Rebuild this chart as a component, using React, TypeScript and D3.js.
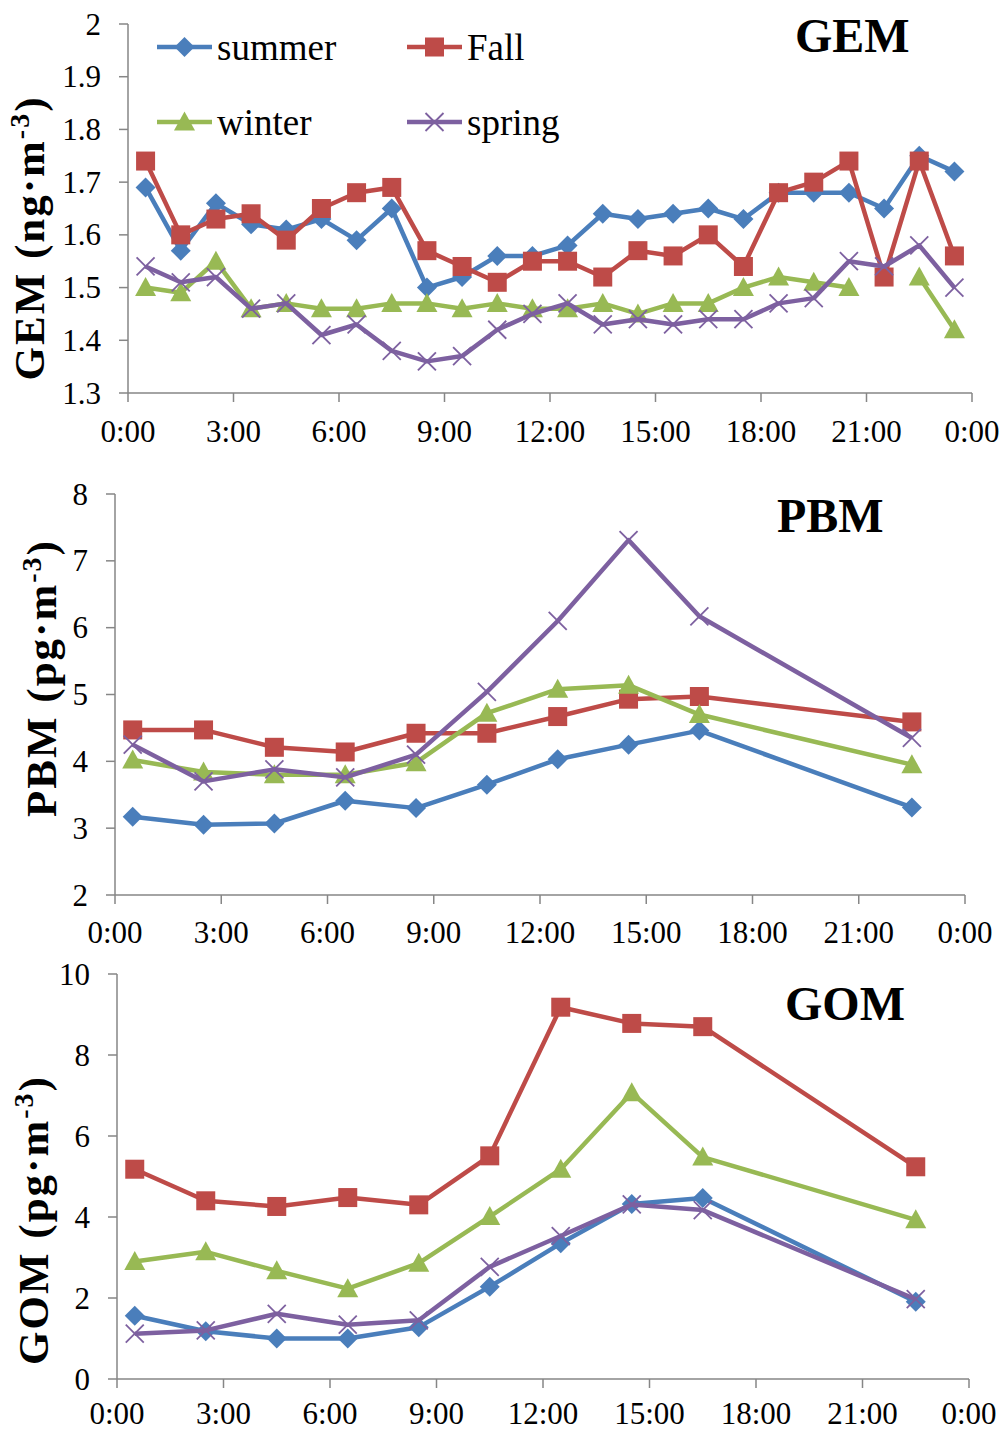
import React from "react";
import * as d3 from "d3";

const seriesNames = ["summer", "Fall", "winter", "spring"];
const seriesColors = ["#4A7EBB", "#BE4B48", "#98B954", "#7D60A0"];
const markerTypes = ["diamond", "square", "triangle", "x"];

const xTickValues = [0, 3, 6, 9, 12, 15, 18, 21, 24];
const xTickLabels = ["0:00", "3:00", "6:00", "9:00", "12:00", "15:00", "18:00", "21:00", "0:00"];

// GEM (hourly)
const gemHours = [0.5, 1.5, 2.5, 3.5, 4.5, 5.5, 6.5, 7.5, 8.5, 9.5, 10.5, 11.5, 12.5, 13.5, 14.5, 15.5, 16.5, 17.5, 18.5, 19.5, 20.5, 21.5, 22.5, 23.5];
const gemSummer = [1.69, 1.57, 1.66, 1.62, 1.61, 1.63, 1.59, 1.65, 1.50, 1.52, 1.56, 1.56, 1.58, 1.64, 1.63, 1.64, 1.65, 1.63, 1.68, 1.68, 1.68, 1.65, 1.75, 1.72];
const gemFall = [1.74, 1.60, 1.63, 1.64, 1.59, 1.65, 1.68, 1.69, 1.57, 1.54, 1.51, 1.55, 1.55, 1.52, 1.57, 1.56, 1.60, 1.54, 1.68, 1.70, 1.74, 1.52, 1.74, 1.56];
const gemWinter = [1.50, 1.49, 1.55, 1.46, 1.47, 1.46, 1.46, 1.47, 1.47, 1.46, 1.47, 1.46, 1.46, 1.47, 1.45, 1.47, 1.47, 1.50, 1.52, 1.51, 1.50, null, 1.52, 1.42];
const gemSpring = [1.54, 1.51, 1.52, 1.46, 1.47, 1.41, 1.43, 1.38, 1.36, 1.37, 1.42, 1.45, 1.47, 1.43, 1.44, 1.43, 1.44, 1.44, 1.47, 1.48, 1.55, 1.54, 1.58, 1.50];
const gemTicks = [1.3, 1.4, 1.5, 1.6, 1.7, 1.8, 1.9, 2.0];

// PBM & GOM (2-hourly)
const bihourly = [0.5, 2.5, 4.5, 6.5, 8.5, 10.5, 12.5, 14.5, 16.5, 22.5];
const pbmSummer = [3.17, 3.05, 3.07, 3.41, 3.30, 3.65, 4.03, 4.25, 4.46, 3.31];
const pbmFall = [4.47, 4.47, 4.21, 4.14, 4.42, 4.42, 4.67, 4.93, 4.97, 4.59];
const pbmWinter = [4.02, 3.84, 3.80, 3.80, 3.98, 4.72, 5.08, 5.14, 4.70, 3.95];
const pbmSpring = [4.25, 3.70, 3.88, 3.76, 4.10, 5.04, 6.10, 7.31, 6.17, 4.35];
const pbmTicks = [2, 3, 4, 5, 6, 7, 8];

const gomSummer = [1.56, 1.18, 1.00, 1.00, 1.28, 2.28, 3.35, 4.32, 4.47, 1.91];
const gomFall = [5.18, 4.40, 4.26, 4.48, 4.30, 5.51, 9.18, 8.78, 8.70, 5.24];
const gomWinter = [2.90, 3.14, 2.67, 2.23, 2.86, 4.01, 5.18, 7.07, 5.48, 3.93];
const gomSpring = [1.12, 1.20, 1.61, 1.34, 1.45, 2.77, 3.53, 4.31, 4.17, 1.97];
const gomTicks = [0, 2, 4, 6, 8, 10];

const FONT = "'Liberation Serif', 'Times New Roman', Times, serif";
const AXIS = "#868686";

function Marker({ type, x, y, color }: { type: string; x: number; y: number; color: string }) {
  if (type === "diamond") {
    const r = 10;
    return <path d={`M${x},${y - r}L${x + r},${y}L${x},${y + r}L${x - r},${y}Z`} fill={color} />;
  }
  if (type === "square") {
    const s = 19;
    return <rect x={x - s / 2} y={y - s / 2} width={s} height={s} fill={color} />;
  }
  if (type === "triangle") {
    return <path d={`M${x},${y - 10.5}L${x + 10.5},${y + 8.5}L${x - 10.5},${y + 8.5}Z`} fill={color} />;
  }
  const r = 9;
  return (
    <g stroke={color} strokeWidth={1.8}>
      <line x1={x - r} y1={y - r} x2={x + r} y2={y + r} />
      <line x1={x - r} y1={y + r} x2={x + r} y2={y - r} />
    </g>
  );
}

type PanelProps = {
  x0: number; x1: number; yTop: number; yBot: number;
  domain: [number, number]; ticks: number[]; fmt: (v: number) => string;
  hours: number[]; values: (number | null)[][];
  title: string; titleX: number; titleY: number;
  yLab: string; yLabUnit: string; yLabX: number; yLabY: number;
  xLabY: number;
};

function Panel(p: PanelProps) {
  const x = d3.scaleLinear().domain([0, 24]).range([p.x0, p.x1]);
  const y = d3.scaleLinear().domain(p.domain).range([p.yBot, p.yTop]);
  return (
    <g>
      <line x1={p.x0} y1={p.yTop} x2={p.x0} y2={p.yBot} stroke={AXIS} strokeWidth={1.5} />
      <line x1={p.x0} y1={p.yBot} x2={p.x1} y2={p.yBot} stroke={AXIS} strokeWidth={1.5} />
      {p.ticks.map((t) => (
        <g key={"yt" + t}>
          <line x1={p.x0 - 9} x2={p.x0} y1={y(t)} y2={y(t)} stroke={AXIS} strokeWidth={1.5} />
          <text x={p.x0 - 27} y={y(t)} dy="0.34em" textAnchor="end" fontSize={31} fontFamily={FONT} fill="#000">
            {p.fmt(t)}
          </text>
        </g>
      ))}
      {xTickValues.map((t, i) => (
        <g key={"xt" + i}>
          <line x1={x(t)} x2={x(t)} y1={p.yBot} y2={p.yBot + 9} stroke={AXIS} strokeWidth={1.5} />
          <text x={x(t)} y={p.xLabY} textAnchor="middle" fontSize={31} fontFamily={FONT} fill="#000">
            {xTickLabels[i]}
          </text>
        </g>
      ))}
      {p.values.map((vals, si) => {
        const pts = p.hours.map((h, i) => ({ h, v: vals[i] }));
        const line = d3
          .line<{ h: number; v: number | null }>()
          .defined((d) => d.v !== null)
          .x((d) => x(d.h))
          .y((d) => y(d.v as number));
        return (
          <g key={"s" + si}>
            <path d={line(pts) || ""} fill="none" stroke={seriesColors[si]} strokeWidth={4.5} strokeLinejoin="round" />
            {pts
              .filter((d) => d.v !== null)
              .map((d, i) => (
                <Marker key={i} type={markerTypes[si]} x={x(d.h)} y={y(d.v as number)} color={seriesColors[si]} />
              ))}
          </g>
        );
      })}
      <text x={p.titleX} y={p.titleY} fontSize={48} fontWeight="bold" fontFamily={FONT} fill="#000">
        {p.title}
      </text>
      <text
        transform={`translate(${p.yLabX},${p.yLabY}) rotate(-90)`}
        textAnchor="middle"
        fontSize={43}
        fontWeight="bold"
        fontFamily={FONT}
        letterSpacing={2}
        fill="#000"
      >
        {p.yLab + " (" + p.yLabUnit + "·m"}
        <tspan dy={-15} fontSize={28}>-3</tspan>
        <tspan dy={15}>)</tspan>
      </text>
    </g>
  );
}

function Legend() {
  const items = [
    { lx: 157, ly: 47 },
    { lx: 407, ly: 47 },
    { lx: 157, ly: 122 },
    { lx: 407, ly: 122 },
  ];
  return (
    <g>
      {items.map((it, i) => (
        <g key={i}>
          <line x1={it.lx} x2={it.lx + 55} y1={it.ly} y2={it.ly} stroke={seriesColors[i]} strokeWidth={4.5} />
          <Marker type={markerTypes[i]} x={it.lx + 27.5} y={it.ly} color={seriesColors[i]} />
          <text x={it.lx + 60} y={it.ly + 12.5} fontSize={37} fontFamily={FONT} fill="#000">
            {seriesNames[i]}
          </text>
        </g>
      ))}
    </g>
  );
}

export default function App() {
  const fmt1 = (v: number) => String(+v.toFixed(1));
  const fmt0 = (v: number) => String(v);
  return (
    <div style={{ position: "absolute", left: 0, top: 0 }}>
      <svg width={1003} height={1431} style={{ display: "block", background: "#fff" }}>
        <Panel
          x0={128} x1={972} yTop={24} yBot={393}
          domain={[1.3, 2.0]} ticks={gemTicks} fmt={fmt1}
          hours={gemHours} values={[gemSummer, gemFall, gemWinter, gemSpring]}
          title="GEM" titleX={795} titleY={52}
          yLab="GEM" yLabUnit="ng" yLabX={44} yLabY={238}
          xLabY={442}
        />
        <Legend />
        <Panel
          x0={115} x1={965} yTop={494} yBot={895}
          domain={[2, 8]} ticks={pbmTicks} fmt={fmt0}
          hours={bihourly} values={[pbmSummer, pbmFall, pbmWinter, pbmSpring]}
          title="PBM" titleX={777} titleY={532}
          yLab="PBM" yLabUnit="pg" yLabX={56} yLabY={678}
          xLabY={943}
        />
        <Panel
          x0={117} x1={969} yTop={974} yBot={1379}
          domain={[0, 10]} ticks={gomTicks} fmt={fmt0}
          hours={bihourly} values={[gomSummer, gomFall, gomWinter, gomSpring]}
          title="GOM" titleX={785} titleY={1020}
          yLab="GOM" yLabUnit="pg" yLabX={48} yLabY={1220}
          xLabY={1424}
        />
      </svg>
    </div>
  );
}
